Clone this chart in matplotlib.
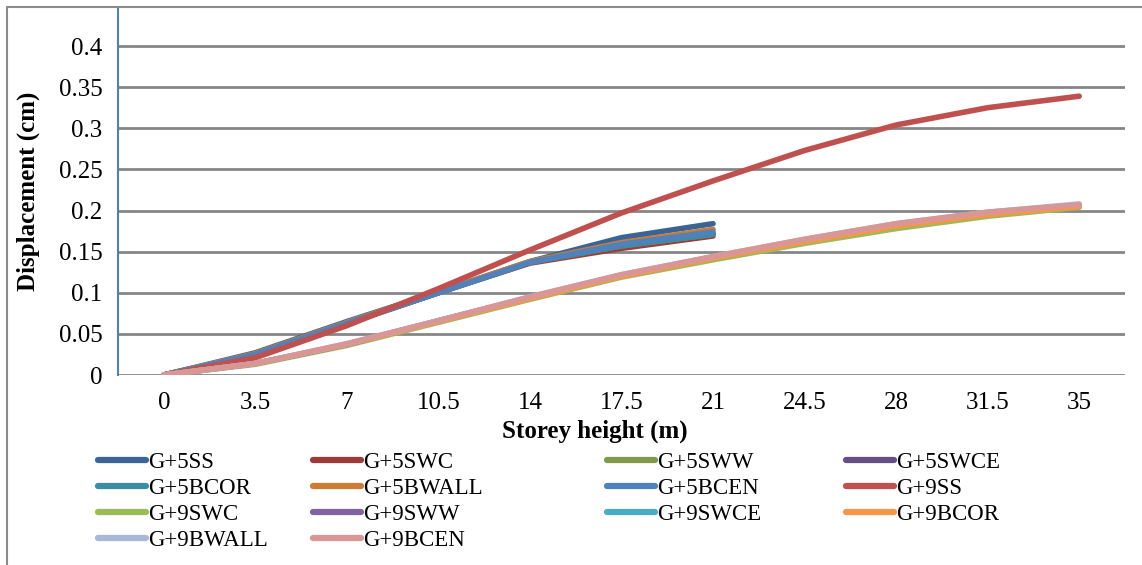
import matplotlib
matplotlib.use("Agg")
import matplotlib.pyplot as plt
from matplotlib.patches import Rectangle

heights = ["0", "3.5", "7", "10.5", "14", "17.5", "21", "24.5", "28", "31.5", "35"]

# G+5 models (ground + 5 storeys, up to 21 m)
g5_ss    = [0, 0.027, 0.065, 0.101, 0.138, 0.167, 0.184]
g5_swc   = [0, 0.024, 0.062, 0.100, 0.136, 0.154, 0.169]
g5_sww   = [0, 0.025, 0.063, 0.100, 0.137, 0.157, 0.171]
g5_swce  = [0, 0.025, 0.063, 0.100, 0.137, 0.158, 0.172]
g5_bcor  = [0, 0.025, 0.063, 0.100, 0.137, 0.157, 0.171]
g5_bwall = [0, 0.026, 0.064, 0.101, 0.138, 0.161, 0.177]
g5_bcen  = [0, 0.025, 0.063, 0.100, 0.137, 0.159, 0.174]

# G+9 models (ground + 9 storeys, up to 35 m)
g9_ss    = [0, 0.021, 0.060, 0.105, 0.152, 0.197, 0.236, 0.273, 0.304, 0.325, 0.339]
g9_swc   = [0, 0.013, 0.036, 0.064, 0.092, 0.119, 0.140, 0.160, 0.178, 0.193, 0.204]
g9_sww   = [0, 0.014, 0.037, 0.066, 0.094, 0.121, 0.143, 0.164, 0.183, 0.197, 0.206]
g9_swce  = [0, 0.014, 0.037, 0.066, 0.094, 0.121, 0.143, 0.164, 0.183, 0.197, 0.206]
g9_bcor  = [0, 0.014, 0.037, 0.065, 0.093, 0.120, 0.142, 0.162, 0.181, 0.195, 0.205]
g9_bwall = [0, 0.014, 0.038, 0.066, 0.095, 0.122, 0.144, 0.165, 0.184, 0.198, 0.208]
g9_bcen  = [0, 0.014, 0.038, 0.066, 0.095, 0.122, 0.144, 0.165, 0.184, 0.198, 0.207]

series = [
    ("G+5SS",    g5_ss,    "#3B6496"),
    ("G+5SWC",   g5_swc,   "#9E3B38"),
    ("G+5SWW",   g5_sww,   "#7F9A48"),
    ("G+5SWCE",  g5_swce,  "#664E86"),
    ("G+5BCOR",  g5_bcor,  "#3A8DA3"),
    ("G+5BWALL", g5_bwall, "#CE7C34"),
    ("G+5BCEN",  g5_bcen,  "#4F81BD"),
    ("G+9SS",    g9_ss,    "#C0504D"),
    ("G+9SWC",   g9_swc,   "#9BBB59"),
    ("G+9SWW",   g9_sww,   "#8064A2"),
    ("G+9SWCE",  g9_swce,  "#4BACC6"),
    ("G+9BCOR",  g9_bcor,  "#F79646"),
    ("G+9BWALL", g9_bwall, "#A7B9D7"),
    ("G+9BCEN",  g9_bcen,  "#D99694"),
]

plt.rcParams["font.family"] = ["Liberation Serif", "DejaVu Serif"]

W, H = 1142, 565
fig = plt.figure(figsize=(W / 100, H / 100), dpi=100)

# outer chart border
fig.patches.append(Rectangle((7 / W, -0.05), 1.1, 1 - 7 / H + 0.05,
                             transform=fig.transFigure, fill=False,
                             edgecolor="#8C8C8C", linewidth=1.5))

ax = fig.add_axes([118 / W, 1 - 375 / H, (1125 - 118) / W, (375 - 7) / H])

handles = []
for name, vals, col in series:
    ln, = ax.plot(range(len(vals)), vals, color=col, linewidth=4.0,
                  solid_capstyle="round", solid_joinstyle="round",
                  label=name, zorder=3)
    handles.append(ln)

ax.set_xlim(-0.5, len(heights) - 0.5)
ax.set_ylim(0, 0.4 + 39 / 822)
ax.set_xticks(range(len(heights)))
ax.set_xticklabels(heights)
yt = [i * 0.05 for i in range(9)]
ax.set_yticks(yt)
ax.set_yticklabels(["0", "0.05", "0.1", "0.15", "0.2", "0.25", "0.3", "0.35", "0.4"])
ax.tick_params(length=0, labelsize=18, pad=11)
ax.tick_params(axis="x", pad=12)
ax.grid(axis="y", color="#868686", linewidth=2)
ax.set_axisbelow(True)
for s in ["top", "right", "bottom"]:
    ax.spines[s].set_visible(False)
ax.spines["left"].set_color("#4F81BD")
ax.spines["left"].set_linewidth(1.5)

fig.text(595 / W, 1 - 431 / H, "Storey height (m)", ha="center", va="center",
         fontsize=18, fontweight="bold")
fig.text(28 / W, 1 - 191 / H, "Displacement (cm)", ha="center", va="center",
         rotation=90, fontsize=18, fontweight="bold")

# legend: 4 columns laid out as in the original (row-wise order)
col_x = [98, 313, 607, 846]
for c in range(4):
    hs = handles[c::4]
    leg = fig.legend(handles=hs, labels=[h.get_label() for h in hs],
                     loc="upper left", bbox_to_anchor=(col_x[c] / W, 1 - 452 / H),
                     frameon=False, fontsize=16.5, borderpad=0, borderaxespad=0,
                     handlelength=2.1, handletextpad=0.1, labelspacing=0.22)
    for lh in leg.legend_handles:
        lh.set_linewidth(4.5)

fig.savefig("out.png", dpi=100)
